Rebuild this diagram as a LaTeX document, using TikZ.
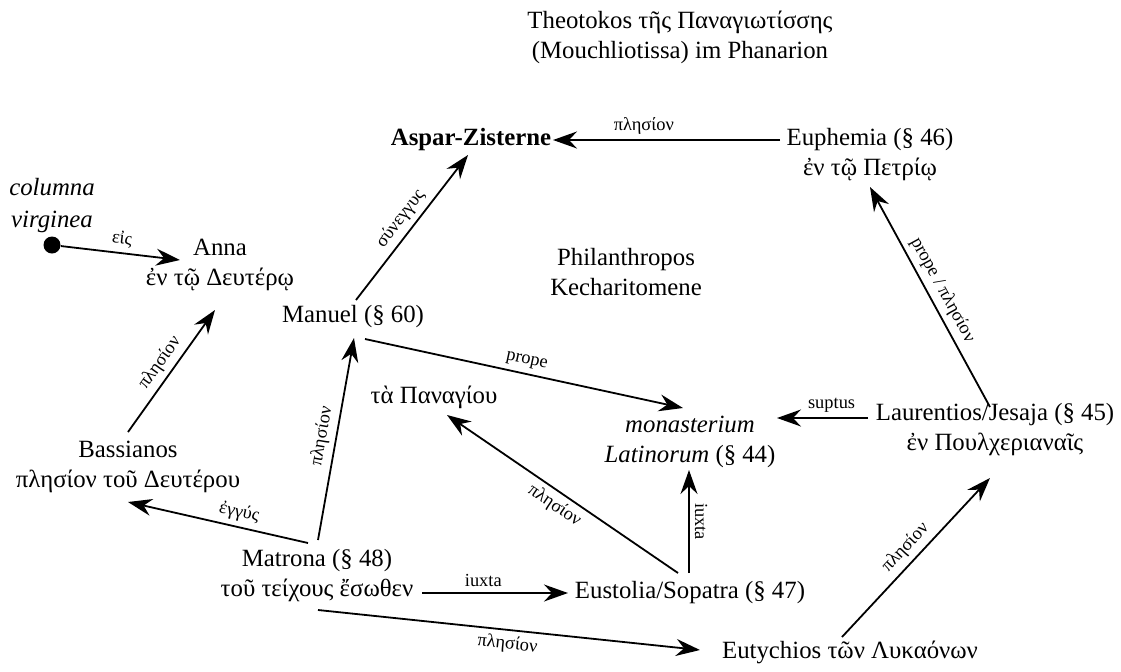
\documentclass[tikz,border=0pt]{standalone}
\usepackage{fontspec}
\setmainfont{Liberation Serif}
\usepackage{tikz}
\usetikzlibrary{arrows.meta}

\begin{document}
\begin{tikzpicture}[x=0.5pt, y=-0.5pt,
  place/.style={align=center, inner sep=0pt, font=\fontsize{12.4}{15}\selectfont},
  arr/.style={-{Stealth[length=12pt, width=8.5pt, inset=4pt]}, line width=0.9pt},
  lbl/.style={font=\fontsize{9.2}{11}\selectfont, inner sep=2.5pt}]
\useasboundingbox (0,0) rectangle (1121,671);

\node[place] (title) at (680,37) {Theotokos τῆς Παναγιωτίσσης\\(Mouchliotissa) im Phanarion};
\node[place, font=\fontsize{12.4}{15}\selectfont\bfseries] (aspar) at (471,140) {Aspar-Zisterne};
\node[place] (euphemia) at (870,155) {Euphemia (§ 46)\\ἐν τῷ Πετρίῳ};
\node[place, font=\fontsize{12.4}{16}\selectfont\itshape] (columna) at (52,206) {columna\\virginea};
\node[circle, fill, inner sep=0pt, minimum size=8.5pt] (dot) at (52,245) {};
\node[place] (anna) at (220,265) {Anna\\ἐν τῷ Δευτέρῳ};
\node[place] (manuel) at (353,317) {Manuel (§ 60)};
\node[place] (philanthropos) at (626,272) {Philanthropos\\Kecharitomene};
\node[place] (bassianos) at (128,467) {Bassianos\\πλησίον τοῦ Δευτέρου};
\node[place] (panagiou) at (434,397) {τὰ Παναγίου};
\node[place] (monasterium) at (690,442) {\textit{monasterium}\\\textit{Latinorum} (§ 44)};
\node[place] (laurentios) at (995,430) {Laurentios/Jesaja (§ 45)\\ἐν Πουλχεριαναῖς};
\node[place] (matrona) at (317,576) {Matrona (§ 48)\\τοῦ τείχους ἔσωθεν};
\node[place] (eustolia) at (690,593) {Eustolia/Sopatra (§ 47)};
\node[place] (eutychios) at (850,652) {Eutychios τῶν Λυκαόνων};

\draw[arr] ([shift={(-90,-15)}]euphemia.center) -- node[lbl, above, pos=0.6] {πλησίον} ([shift={(82,0)}]aspar.center);
\draw[arr] ([shift={(3,-17)}]manuel.center) -- node[lbl, above, sloped] {σύνεγγυς} ([shift={(-3,15)}]aspar.center);
\draw[arr] (dot) -- node[lbl, above, sloped] {εἰς} ([shift={(-40,-5)}]anna.center);
\draw[arr] ([shift={(0,-35)}]bassianos.center) -- node[lbl, above, sloped] {πλησίον} ([shift={(-5,45)}]anna.center);
\draw[arr] ([shift={(1,-36)}]matrona.center) -- node[lbl, above, sloped] {πλησίον} ([shift={(1,21)}]manuel.center);
\draw[arr] ([shift={(-9,-33)}]matrona.center) -- node[lbl, above, sloped, pos=0.4] {ἐγγύς} ([shift={(0,35)}]bassianos.center);
\draw[arr] ([shift={(12,22)}]manuel.center) -- node[lbl, above, sloped] {prope} ([shift={(-7,-34)}]monasterium.center);
\draw[arr] ([shift={(-12,-20)}]eustolia.center) -- node[lbl, below, sloped] {πλησίον} ([shift={(13,18)}]panagiou.center);
\draw[arr] ([shift={(-1,-20)}]eustolia.center) -- node[lbl, anchor=south, rotate=-90] {iuxta} ([shift={(-1,28)}]monasterium.center);
\draw[arr] ([shift={(105,17)}]matrona.center) -- node[lbl, above, pos=0.42] {iuxta} ([shift={(-122,0)}]eustolia.center);
\draw[arr] ([shift={(1,34)}]matrona.center) -- node[lbl, below, sloped] {πλησίον} ([shift={(-150,-2)}]eutychios.center);
\draw[arr] ([shift={(-8,-15)}]eutychios.center) -- node[lbl, above, sloped] {πλησίον} ([shift={(-5,48)}]laurentios.center);
\draw[arr] ([shift={(-127,-12)}]laurentios.center) -- node[lbl, above, pos=0.4] {suptus} ([shift={(87,-24)}]monasterium.center);
\draw[arr] ([shift={(-5,-23)}]laurentios.center) -- node[lbl, above, sloped] {prope / πλησίον} ([shift={(0,32)}]euphemia.center);
\end{tikzpicture}
\end{document}
